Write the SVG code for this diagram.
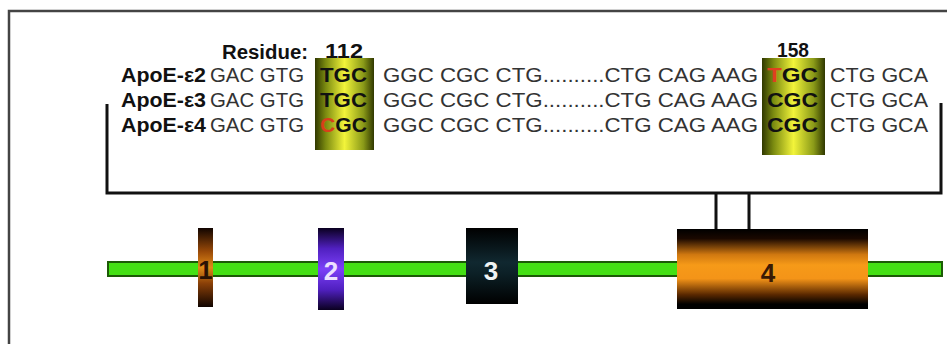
<svg xmlns="http://www.w3.org/2000/svg" width="947" height="344" viewBox="0 0 947 344">
<defs>
<linearGradient id="hl" x1="0" y1="0" x2="1" y2="0">
<stop offset="0" stop-color="#303800"/>
<stop offset="0.18" stop-color="#7a8a10"/>
<stop offset="0.5" stop-color="#f2f43a"/>
<stop offset="0.82" stop-color="#8a9a18"/>
<stop offset="1" stop-color="#303800"/>
</linearGradient>
<linearGradient id="org" x1="0" y1="0" x2="0" y2="1">
<stop offset="0" stop-color="#000"/>
<stop offset="0.12" stop-color="#1a0800"/>
<stop offset="0.32" stop-color="#d07810"/>
<stop offset="0.45" stop-color="#f69a18"/>
<stop offset="0.62" stop-color="#f49418"/>
<stop offset="0.82" stop-color="#5a2800"/>
<stop offset="0.94" stop-color="#000"/>
<stop offset="1" stop-color="#000"/>
</linearGradient>
<linearGradient id="org1" x1="0" y1="0" x2="0" y2="1">
<stop offset="0" stop-color="#100400"/>
<stop offset="0.3" stop-color="#9a4a08"/>
<stop offset="0.5" stop-color="#e08a18"/>
<stop offset="0.7" stop-color="#8a4008"/>
<stop offset="1" stop-color="#100400"/>
</linearGradient>
<linearGradient id="pur" x1="0" y1="0" x2="0" y2="1">
<stop offset="0" stop-color="#0a0020"/>
<stop offset="0.25" stop-color="#5020c0"/>
<stop offset="0.5" stop-color="#7c40f8"/>
<stop offset="0.75" stop-color="#5020c0"/>
<stop offset="1" stop-color="#0a0020"/>
</linearGradient>
<linearGradient id="blk" x1="0" y1="0" x2="0" y2="1">
<stop offset="0" stop-color="#000"/>
<stop offset="0.45" stop-color="#102830"/>
<stop offset="0.6" stop-color="#0c2026"/>
<stop offset="1" stop-color="#000"/>
</linearGradient>
<style>
.lbl{font-family:"Liberation Sans",Arial,sans-serif;font-weight:bold;font-size:21px;fill:#111}
.res{font-family:"Liberation Sans",Arial,sans-serif;font-weight:bold;font-size:20px;fill:#111}
.seq{font-family:"Liberation Sans",Arial,sans-serif;font-size:21px;fill:#333}
.cod{font-family:"Liberation Sans",Arial,sans-serif;font-weight:bold;font-size:21px;fill:#111}
.num{font-family:"Liberation Sans",Arial,sans-serif;font-weight:bold;font-size:26px;text-anchor:middle}
.line{fill:none;stroke:#111;stroke-width:3}
</style>
</defs>
<rect width="947" height="344" fill="#fff"/>
<path d="M9,344 V11 H947" fill="none" stroke="#444" stroke-width="2.5"/>

<g id="connectors">
<path class="line" d="M107,104 V193 H941 V103"/>
<path class="line" d="M716,193 V229 M749,193 V229"/>
</g>

<g id="alignment">
<rect x="315" y="58" width="59" height="92" fill="url(#hl)"/>
<rect x="762" y="58" width="63" height="97" fill="url(#hl)"/>
<text class="res" x="222" y="59" textLength="86" lengthAdjust="spacingAndGlyphs">Residue:</text>
<text class="res" x="325" y="58" textLength="38" lengthAdjust="spacingAndGlyphs">112</text>
<text class="res" x="777" y="57" textLength="32" lengthAdjust="spacingAndGlyphs">158</text>

<text class="lbl" x="121" y="82" textLength="85" lengthAdjust="spacingAndGlyphs">ApoE-ε2</text>
<text class="lbl" x="121" y="107" textLength="85" lengthAdjust="spacingAndGlyphs">ApoE-ε3</text>
<text class="lbl" x="121" y="132" textLength="85" lengthAdjust="spacingAndGlyphs">ApoE-ε4</text>

<text class="seq" x="210" y="82" textLength="94" lengthAdjust="spacingAndGlyphs">GAC GTG</text>
<text class="seq" x="210" y="107" textLength="94" lengthAdjust="spacingAndGlyphs">GAC GTG</text>
<text class="seq" x="210" y="132" textLength="94" lengthAdjust="spacingAndGlyphs">GAC GTG</text>

<text class="cod" x="320" y="82" textLength="47" lengthAdjust="spacingAndGlyphs">TGC</text>
<text class="cod" x="320" y="107" textLength="47" lengthAdjust="spacingAndGlyphs">TGC</text>
<text class="cod" x="320" y="132" textLength="47" lengthAdjust="spacingAndGlyphs"><tspan fill="#d8401a">C</tspan>GC</text>

<text class="seq" x="383" y="82" textLength="375" lengthAdjust="spacingAndGlyphs">GGC CGC CTG..........CTG CAG AAG</text>
<text class="seq" x="383" y="107" textLength="375" lengthAdjust="spacingAndGlyphs">GGC CGC CTG..........CTG CAG AAG</text>
<text class="seq" x="383" y="132" textLength="375" lengthAdjust="spacingAndGlyphs">GGC CGC CTG..........CTG CAG AAG</text>

<text class="cod" x="767" y="82" textLength="51" lengthAdjust="spacingAndGlyphs"><tspan fill="#e04020">T</tspan>GC</text>
<text class="cod" x="767" y="107" textLength="51" lengthAdjust="spacingAndGlyphs">CGC</text>
<text class="cod" x="767" y="132" textLength="51" lengthAdjust="spacingAndGlyphs">CGC</text>

<text class="seq" x="830" y="82" textLength="98" lengthAdjust="spacingAndGlyphs">CTG GCA</text>
<text class="seq" x="830" y="107" textLength="98" lengthAdjust="spacingAndGlyphs">CTG GCA</text>
<text class="seq" x="830" y="132" textLength="98" lengthAdjust="spacingAndGlyphs">CTG GCA</text>
</g>

<g id="gene-line">
<rect x="108" y="262" width="834" height="14" fill="#44e014" stroke="#1c5a06" stroke-width="2"/>
</g>

<g id="exon1">
<rect x="198" y="228" width="15" height="79" fill="url(#org1)"/>
<text class="num" x="205.5" y="279" fill="#2a1204" font-size="24">1</text>
</g>
<g id="exon2">
<rect x="318" y="228" width="26" height="82" fill="url(#pur)"/>
<text class="num" x="331" y="280" fill="#ece0ff">2</text>
</g>
<g id="exon3">
<rect x="466" y="228" width="52" height="76" fill="url(#blk)"/>
<text class="num" x="491" y="280" fill="#f0f4f4">3</text>
</g>
<g id="exon4">
<rect x="677" y="229" width="191" height="80" fill="url(#org)"/>
<text class="num" x="768" y="282" fill="#3a1a04">4</text>
</g>
</svg>
